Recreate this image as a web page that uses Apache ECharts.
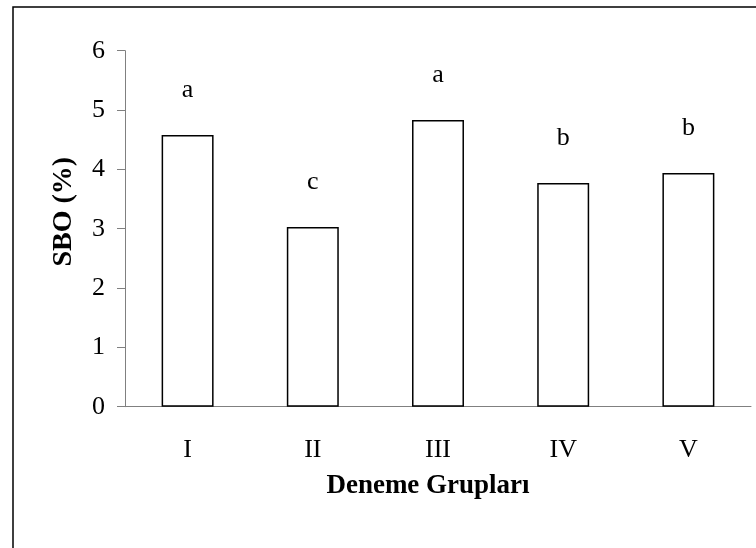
<!DOCTYPE html>
<html>
<head>
<meta charset="utf-8">
<script src="https://cdn.jsdelivr.net/npm/echarts@6/dist/echarts.min.js"></script>
<style>
html, body { margin: 0; padding: 0; background: #fff; }
#chart { width: 756px; height: 548px; }
</style>
</head>
<body>
<div id="chart"></div>
<script>
// deneme grupları ve SBO değerleri
var groups = ['I', 'II', 'III', 'IV', 'V'];
var sboValues = [4.58, 3.03, 4.83, 3.77, 3.94];
var letters = ['a', 'c', 'a', 'b', 'b'];
var yTicks = [0, 1, 2, 3, 4, 5, 6];

var serif = '"Liberation Serif", "Times New Roman", serif';

var chart = echarts.init(document.getElementById('chart'));
var option = {
    backgroundColor: '#fff',
    animation: false,
    graphic: [{
        type: 'rect',
        shape: { x: 13, y: 7, width: 800, height: 600 },
        style: { fill: 'none', stroke: '#000', lineWidth: 1.5 },
        silent: true
    }],
    grid: {
        left: 125,
        right: 5,
        top: 50.7,
        bottom: 141.3
    },
    xAxis: {
        type: 'category',
        data: groups,
        name: 'Deneme Grupları',
        nameLocation: 'middle',
        nameGap: 66,
        nameTextStyle: { fontFamily: serif, fontSize: 27, fontWeight: 'bold', color: '#000', padding: [0, 20, 0, 0] },
        axisLine: { lineStyle: { color: '#808080', width: 1 } },
        axisTick: { length: 9, lineStyle: { color: '#808080' } },
        axisLabel: { margin: 30, fontFamily: serif, fontSize: 26, color: '#000' }
    },
    yAxis: {
        type: 'value',
        min: yTicks[0],
        max: yTicks[yTicks.length - 1],
        interval: 1,
        name: 'SBO (%)',
        nameLocation: 'middle',
        nameGap: 47,
        nameTextStyle: { fontFamily: serif, fontSize: 28, fontWeight: 'bold', color: '#000', padding: [0, 0, 0, 34] },
        axisLine: { show: true, lineStyle: { color: '#808080', width: 1 } },
        axisTick: { show: true, length: 8, lineStyle: { color: '#808080' } },
        axisLabel: { margin: 20, fontFamily: serif, fontSize: 26, color: '#000' },
        splitLine: { show: false }
    },
    series: [{
        type: 'bar',
        data: sboValues,
        barWidth: '41.5%',
        itemStyle: { color: '#fff', borderColor: '#000', borderWidth: 1.5 },
        label: {
            show: true,
            position: 'top',
            distance: 32,
            fontFamily: serif,
            fontSize: 26,
            color: '#000',
            formatter: function (p) { return letters[p.dataIndex]; }
        }
    }]
};
chart.setOption(option);
</script>
</body>
</html>
